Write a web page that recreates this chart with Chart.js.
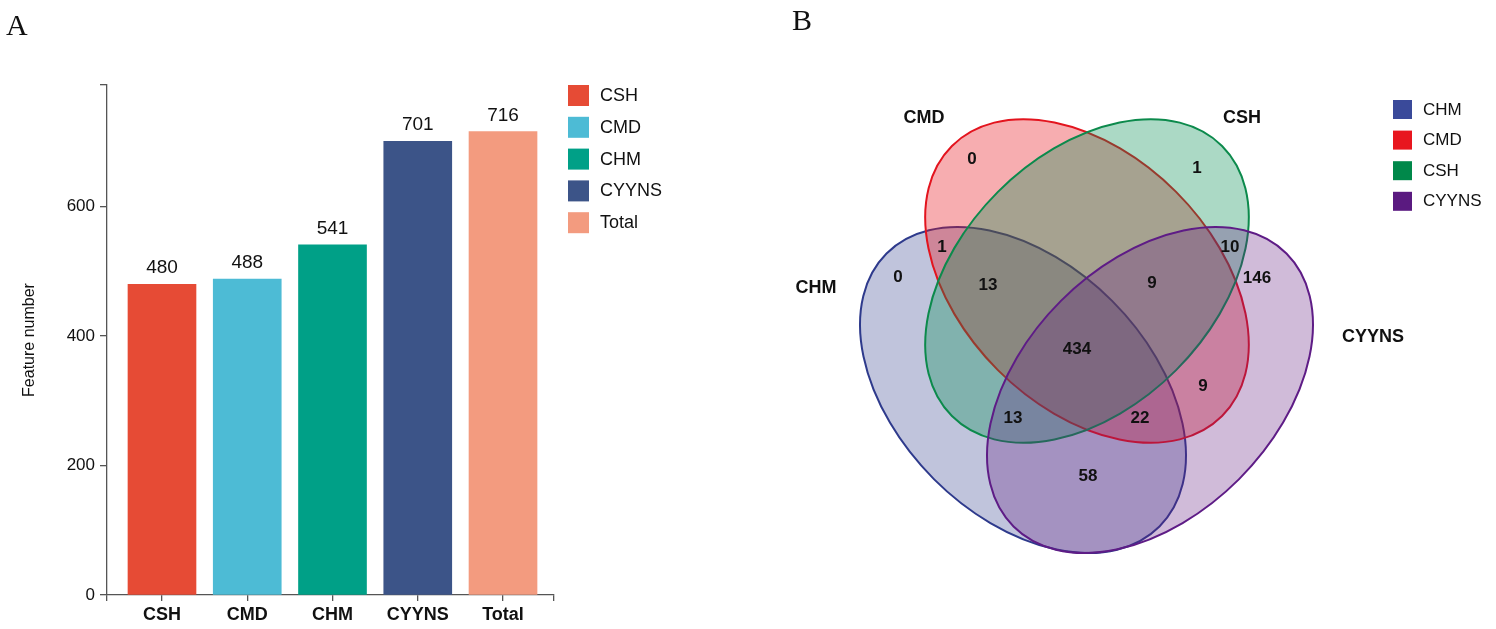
<!DOCTYPE html>
<html>
<head>
<meta charset="utf-8">
<script src="https://cdn.jsdelivr.net/npm/chart.js@4.4.1/dist/chart.umd.min.js"></script>
<style>
  html, body { margin: 0; padding: 0; background: #fff; }
  #wrap { position: relative; width: 1496px; height: 629px; overflow: hidden; }
  canvas { position: absolute; top: 0; }
  #barCanvas { left: 0; }
  #vennCanvas { left: 760px; }
</style>
</head>
<body>
<div id="wrap">
  <canvas id="barCanvas" width="760" height="629"></canvas>
  <canvas id="vennCanvas" width="736" height="629"></canvas>
</div>
<script>
// ---- panel A : feature number per group ----
const groups = ['CSH', 'CMD', 'CHM', 'CYYNS', 'Total'];
const featureCounts = [480, 488, 541, 701, 716];
const yTickValues = [0, 200, 400, 600];

// ---- panel B : venn of the four groups ----
const vennSets = ['CHM', 'CMD', 'CSH', 'CYYNS'];
// region counts, same order as vennSpots below
const vennCounts = [0, 1, 1, 0, 13, 9, 10, 146, 434, 9, 13, 22, 58];

// styles / layout (kept apart from the values)
const SANS = '"Liberation Sans", Arial, Helvetica, sans-serif';
const SERIF = '"Liberation Serif", "Times New Roman", serif';
const barColors = ['#E64B35', '#4DBBD5', '#00A087', '#3C5488', '#F39B7F'];
const vennStroke = ['#2E3A8C', '#E3141E', '#0C8A4C', '#5E1C86'];
const vennFill = ['rgba(46,58,140,0.30)', 'rgba(232,20,30,0.35)', 'rgba(0,140,80,0.33)', 'rgba(100,30,130,0.30)'];
const vennKeyColors = ['#3A4A9A', '#E8161F', '#00884A', '#5A1A80'];

// ellipse geometry in venn data units (same units on both axes)
const vennShapes = [
  { cx: 1023, cy: 390, rx: 193, ry: 126, angle: 45 },   // CHM
  { cx: 1087, cy: 281, rx: 191, ry: 126, angle: 45 },   // CMD
  { cx: 1087, cy: 281, rx: 191, ry: 126, angle: -45 },  // CSH
  { cx: 1150, cy: 390, rx: 193, ry: 126, angle: -45 }   // CYYNS
];
const vennSetLabelPos = [[816, 288], [924, 118], [1242, 118], [1373, 337]];
const vennSpots = [
  [972, 159], [1197, 168], [942, 247], [898, 277], [988, 285], [1152, 283],
  [1230, 247], [1257, 278], [1077, 349], [1203, 386], [1013, 418], [1140, 418], [1088, 476]
];

/* ---------- panel A extras: value labels, legend, letter ---------- */
const barExtras = {
  id: 'barExtras',
  afterDatasetsDraw(chart) {
    const ctx = chart.ctx;
    const meta = chart.getDatasetMeta(0);
    ctx.save();
    ctx.fillStyle = '#111';
    ctx.font = '19px ' + SANS;
    ctx.textAlign = 'center';
    ctx.textBaseline = 'alphabetic';
    meta.data.forEach((bar, i) => {
      ctx.fillText(String(featureCounts[i]), bar.x, bar.y - 11);
    });

    // legend
    ctx.font = '18px ' + SANS;
    ctx.textAlign = 'left';
    ctx.textBaseline = 'middle';
    groups.forEach((g, i) => {
      const top = 85 + i * 31.8;
      ctx.fillStyle = barColors[i];
      ctx.fillRect(568, top, 21, 21);
      ctx.fillStyle = '#111';
      ctx.fillText(g, 600, top + 11);
    });

    ctx.font = '30px ' + SERIF;
    ctx.textBaseline = 'alphabetic';
    ctx.fillText('A', 6, 35);
    ctx.restore();
  }
};

new Chart(document.getElementById('barCanvas'), {
  type: 'bar',
  data: {
    datasets: [{
      data: featureCounts.map((v, i) => ({ x: i, y: v })),
      backgroundColor: barColors,
      borderWidth: 0,
      barThickness: 68
    }]
  },
  options: {
    responsive: false,
    animation: false,
    layout: { padding: { top: 85, right: 206, bottom: 0, left: 0 } },
    plugins: { legend: { display: false }, tooltip: { enabled: false } },
    scales: {
      x: {
        type: 'linear',
        min: -0.645,
        max: 4.598,
        offset: false,
        afterBuildTicks: s => {
          s.ticks = [s.min, ...groups.map((g, i) => i), s.max].map(v => ({ value: v }));
        },
        afterFit: s => { s.height = 34; },
        ticks: {
          callback: v => groups[v] !== undefined ? groups[v] : '',
          autoSkip: false,
          maxRotation: 0,
          padding: 3,
          color: '#111',
          font: { family: SANS, size: 18, weight: 'bold' }
        },
        grid: { offset: false, drawOnChartArea: false, drawTicks: true, tickLength: 6, color: '#555', lineWidth: 1.3 },
        border: { color: '#555', width: 1.3 }
      },
      y: {
        min: 0,
        max: 788,
        afterBuildTicks: s => {
          s.ticks = [...yTickValues, s.max].map(v => ({ value: v }));
        },
        afterFit: s => { s.width = 107; },
        ticks: {
          callback: v => yTickValues.includes(v) ? String(v) : '',
          padding: 5,
          color: '#111',
          font: { family: SANS, size: 17 }
        },
        grid: { drawOnChartArea: false, drawTicks: true, tickLength: 7, color: '#555', lineWidth: 1.3 },
        border: { color: '#555', width: 1.3 },
        title: {
          display: true,
          text: 'Feature number',
          color: '#111',
          font: { family: SANS, size: 16 },
          padding: { top: 20, bottom: 0 }
        }
      }
    }
  },
  plugins: [barExtras]
});

/* ---------- panel B: ellipses, labels, legend ---------- */
const vennExtras = {
  id: 'vennExtras',
  beforeDatasetsDraw(chart) {
    const { ctx, scales: { x, y } } = chart;
    ctx.save();
    vennShapes.forEach((e, i) => {
      const px = x.getPixelForValue(e.cx);
      const py = y.getPixelForValue(e.cy);
      const rx = Math.abs(x.getPixelForValue(e.cx + e.rx) - px);
      const ry = Math.abs(y.getPixelForValue(e.cy + e.ry) - py);
      ctx.beginPath();
      ctx.ellipse(px, py, rx, ry, e.angle * Math.PI / 180, 0, Math.PI * 2);
      ctx.fillStyle = vennFill[i];
      ctx.fill();
      ctx.lineWidth = 2;
      ctx.strokeStyle = vennStroke[i];
      ctx.stroke();
    });
    ctx.restore();
  },
  afterDatasetsDraw(chart) {
    const { ctx, scales: { x, y } } = chart;
    const meta = chart.getDatasetMeta(0);
    ctx.save();
    ctx.fillStyle = '#111';
    ctx.textAlign = 'center';
    ctx.textBaseline = 'middle';
    ctx.font = 'bold 17px ' + SANS;
    meta.data.forEach((pt, i) => ctx.fillText(String(vennCounts[i]), pt.x, pt.y));

    ctx.font = 'bold 18px ' + SANS;
    vennSets.forEach((s, i) => {
      const [lx, ly] = vennSetLabelPos[i];
      ctx.fillText(s, x.getPixelForValue(lx), y.getPixelForValue(ly));
    });

    // legend
    ctx.textAlign = 'left';
    ctx.font = '17px ' + SANS;
    vennSets.forEach((s, i) => {
      const top = 100 + i * 30.6;
      ctx.fillStyle = vennKeyColors[i];
      ctx.fillRect(633, top, 19, 19);
      ctx.fillStyle = '#111';
      ctx.fillText(s, 663, top + 10);
    });

    ctx.font = '30px ' + SERIF;
    ctx.textBaseline = 'alphabetic';
    ctx.fillText('B', 32, 30);
    ctx.restore();
  }
};

new Chart(document.getElementById('vennCanvas'), {
  type: 'scatter',
  data: {
    datasets: [{
      data: vennSpots.map(p => ({ x: p[0], y: p[1] })),
      pointRadius: 0,
      pointHoverRadius: 0
    }]
  },
  options: {
    responsive: false,
    animation: false,
    layout: { padding: 0 },
    plugins: { legend: { display: false }, tooltip: { enabled: false } },
    scales: {
      x: { type: 'linear', min: 760, max: 1496, display: false },
      y: { type: 'linear', min: 0, max: 629, reverse: true, display: false }
    }
  },
  plugins: [vennExtras]
});
</script>
</body>
</html>
